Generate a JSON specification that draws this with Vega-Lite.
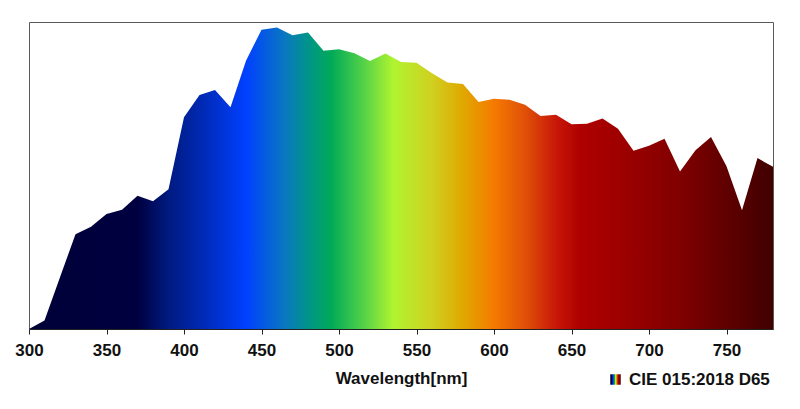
{
  "$schema": "https://vega.github.io/schema/vega-lite/v6.json",
  "width": 744,
  "height": 307,
  "autosize": {"type": "none"},
  "padding": {"left": 29, "top": 22, "right": 27, "bottom": 80},
  "background": "white",
  "config": {
    "view": {"stroke": "#5a5a5a", "strokeWidth": 1},
    "font": "Liberation Sans"
  },
  "data": {
    "values": [
      {"wl": 300, "v": 0.03, "series": "CIE 015:2018 D65"},
      {"wl": 310, "v": 3.29, "series": "CIE 015:2018 D65"},
      {"wl": 320, "v": 20.24, "series": "CIE 015:2018 D65"},
      {"wl": 330, "v": 37.05, "series": "CIE 015:2018 D65"},
      {"wl": 340, "v": 39.95, "series": "CIE 015:2018 D65"},
      {"wl": 350, "v": 44.91, "series": "CIE 015:2018 D65"},
      {"wl": 360, "v": 46.64, "series": "CIE 015:2018 D65"},
      {"wl": 370, "v": 52.09, "series": "CIE 015:2018 D65"},
      {"wl": 380, "v": 49.98, "series": "CIE 015:2018 D65"},
      {"wl": 390, "v": 54.65, "series": "CIE 015:2018 D65"},
      {"wl": 400, "v": 82.75, "series": "CIE 015:2018 D65"},
      {"wl": 410, "v": 91.49, "series": "CIE 015:2018 D65"},
      {"wl": 420, "v": 93.43, "series": "CIE 015:2018 D65"},
      {"wl": 430, "v": 86.68, "series": "CIE 015:2018 D65"},
      {"wl": 440, "v": 104.86, "series": "CIE 015:2018 D65"},
      {"wl": 450, "v": 117.01, "series": "CIE 015:2018 D65"},
      {"wl": 460, "v": 117.81, "series": "CIE 015:2018 D65"},
      {"wl": 470, "v": 114.86, "series": "CIE 015:2018 D65"},
      {"wl": 480, "v": 115.92, "series": "CIE 015:2018 D65"},
      {"wl": 490, "v": 108.81, "series": "CIE 015:2018 D65"},
      {"wl": 500, "v": 109.35, "series": "CIE 015:2018 D65"},
      {"wl": 510, "v": 107.8, "series": "CIE 015:2018 D65"},
      {"wl": 520, "v": 104.79, "series": "CIE 015:2018 D65"},
      {"wl": 530, "v": 107.69, "series": "CIE 015:2018 D65"},
      {"wl": 540, "v": 104.41, "series": "CIE 015:2018 D65"},
      {"wl": 550, "v": 104.05, "series": "CIE 015:2018 D65"},
      {"wl": 560, "v": 100.0, "series": "CIE 015:2018 D65"},
      {"wl": 570, "v": 96.33, "series": "CIE 015:2018 D65"},
      {"wl": 580, "v": 95.79, "series": "CIE 015:2018 D65"},
      {"wl": 590, "v": 88.69, "series": "CIE 015:2018 D65"},
      {"wl": 600, "v": 90.01, "series": "CIE 015:2018 D65"},
      {"wl": 610, "v": 89.6, "series": "CIE 015:2018 D65"},
      {"wl": 620, "v": 87.7, "series": "CIE 015:2018 D65"},
      {"wl": 630, "v": 83.29, "series": "CIE 015:2018 D65"},
      {"wl": 640, "v": 83.7, "series": "CIE 015:2018 D65"},
      {"wl": 650, "v": 80.03, "series": "CIE 015:2018 D65"},
      {"wl": 660, "v": 80.21, "series": "CIE 015:2018 D65"},
      {"wl": 670, "v": 82.28, "series": "CIE 015:2018 D65"},
      {"wl": 680, "v": 78.28, "series": "CIE 015:2018 D65"},
      {"wl": 690, "v": 69.72, "series": "CIE 015:2018 D65"},
      {"wl": 700, "v": 71.61, "series": "CIE 015:2018 D65"},
      {"wl": 710, "v": 74.35, "series": "CIE 015:2018 D65"},
      {"wl": 720, "v": 61.6, "series": "CIE 015:2018 D65"},
      {"wl": 730, "v": 69.89, "series": "CIE 015:2018 D65"},
      {"wl": 740, "v": 75.09, "series": "CIE 015:2018 D65"},
      {"wl": 750, "v": 63.59, "series": "CIE 015:2018 D65"},
      {"wl": 760, "v": 46.42, "series": "CIE 015:2018 D65"},
      {"wl": 770, "v": 66.81, "series": "CIE 015:2018 D65"},
      {"wl": 780, "v": 63.38, "series": "CIE 015:2018 D65"}
    ]
  },
  "mark": {
    "type": "area",
    "strokeWidth": 0,
    "fill": {
      "gradient": "linear",
      "x1": 0, "y1": 0, "x2": 1, "y2": 0,
      "stops": [
        {"offset": 0.0, "color": "#000038"},
        {"offset": 0.146, "color": "#000040"},
        {"offset": 0.1875, "color": "#001a80"},
        {"offset": 0.229, "color": "#0028b0"},
        {"offset": 0.292, "color": "#0040ff"},
        {"offset": 0.344, "color": "#0a78c0"},
        {"offset": 0.375, "color": "#00948a"},
        {"offset": 0.406, "color": "#00aa58"},
        {"offset": 0.448, "color": "#50d048"},
        {"offset": 0.49, "color": "#b0f430"},
        {"offset": 0.542, "color": "#d0d020"},
        {"offset": 0.583, "color": "#e0a800"},
        {"offset": 0.625, "color": "#f57a00"},
        {"offset": 0.667, "color": "#e05008"},
        {"offset": 0.708, "color": "#c81808"},
        {"offset": 0.74, "color": "#b00000"},
        {"offset": 0.8125, "color": "#980000"},
        {"offset": 0.875, "color": "#800000"},
        {"offset": 0.9375, "color": "#600000"},
        {"offset": 1.0, "color": "#400000"}
      ]
    }
  },
  "encoding": {
    "x": {
      "field": "wl",
      "type": "quantitative",
      "scale": {"domain": [300, 780], "nice": false, "zero": false},
      "axis": {
        "title": "Wavelength[nm]",
        "values": [300, 350, 400, 450, 500, 550, 600, 650, 700, 750],
        "grid": false,
        "domainColor": "#222",
        "tickColor": "#222",
        "tickSize": 5,
        "labelFont": "Liberation Sans",
        "labelFontSize": 17,
        "labelFontWeight": "bold",
        "labelColor": "#111",
        "labelPadding": 8,
        "labelFlush": false,
        "titleFont": "Liberation Sans",
        "titleFontSize": 17,
        "titleFontWeight": "bold",
        "titleColor": "#111",
        "titlePadding": 12
      }
    },
    "y": {
      "field": "v",
      "type": "quantitative",
      "scale": {"domain": [0, 120], "nice": false},
      "axis": null
    },
    "stroke": {
      "field": "series",
      "type": "nominal",
      "scale": {"range": ["#8b0000"]},
      "legend": {
        "title": null,
        "orient": "none",
        "legendX": 578,
        "legendY": 349,
        "symbolType": "square",
        "symbolSize": 110,
        "symbolStrokeWidth": 0,
        "labelFont": "Liberation Sans",
        "labelFontSize": 17,
        "labelFontWeight": "bold",
        "labelColor": "#111",
        "labelOffset": 5,
        "encode": {
          "symbols": {
            "update": {
              "fill": {"value": {"gradient": "linear", "x1": 0, "y1": 0, "x2": 1, "y2": 0, "stops": [{"offset": 0, "color": "#1010c0"}, {"offset": 0.33, "color": "#1010c0"}, {"offset": 0.34, "color": "#f0d000"}, {"offset": 0.66, "color": "#f0d000"}, {"offset": 0.67, "color": "#d00000"}, {"offset": 1, "color": "#d00000"}]}},
              "stroke": {"value": "transparent"},
              "strokeWidth": {"value": 0},
              "opacity": {"value": 1},
              "fillOpacity": {"value": 1}
            }
          }
        }
      }
    }
  }
}
